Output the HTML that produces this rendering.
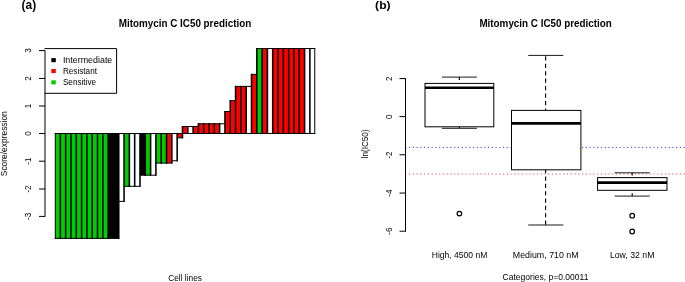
<!DOCTYPE html>
<html><head><meta charset="utf-8"><title>Mitomycin C IC50 prediction</title>
<style>
html,body{margin:0;padding:0;background:#fff;}
body{width:685px;height:282px;overflow:hidden;font-family:"Liberation Sans",sans-serif;}
svg{display:block;will-change:transform;}
text{font-family:"Liberation Sans",sans-serif;fill:#000;}
.t{font-size:9px;}
.b{font-size:10.2px;font-weight:bold;}
.p{font-size:12.2px;font-weight:bold;}
</style></head><body>
<svg width="685" height="282" viewBox="0 0 685 282">
<rect width="685" height="282" fill="#fff"/>
<!-- panel a -->
<text class="p" x="21.6" y="9" textLength="14.6" lengthAdjust="spacingAndGlyphs">(a)</text>
<text class="b" x="118.8" y="27.1" textLength="132.4" lengthAdjust="spacingAndGlyphs">Mitomycin C IC50 prediction</text>
<g class="t" text-anchor="middle">
<text transform="translate(31 50.60) rotate(-90)" textLength="4.5" lengthAdjust="spacingAndGlyphs">3</text>
<text transform="translate(31 78.45) rotate(-90)" textLength="4.5" lengthAdjust="spacingAndGlyphs">2</text>
<text transform="translate(31 106.00) rotate(-90)" textLength="4.5" lengthAdjust="spacingAndGlyphs">1</text>
<text transform="translate(31 133.50) rotate(-90)" textLength="4.5" lengthAdjust="spacingAndGlyphs">0</text>
<text transform="translate(31 161.20) rotate(-90)" textLength="7.2" lengthAdjust="spacingAndGlyphs">-1</text>
<text transform="translate(31 189.00) rotate(-90)" textLength="7.2" lengthAdjust="spacingAndGlyphs">-2</text>
<text transform="translate(31 216.40) rotate(-90)" textLength="7.2" lengthAdjust="spacingAndGlyphs">-3</text>
</g>
<text class="t" transform="translate(7.2 176.2) rotate(-90)" textLength="65" lengthAdjust="spacingAndGlyphs">Score/expression</text>
<g>
<rect x="55.30" y="133.50" width="5.050" height="104.86" fill="#00cd00"/>
<rect x="60.35" y="133.50" width="5.310" height="104.86" fill="#00cd00"/>
<rect x="65.66" y="133.50" width="5.310" height="104.86" fill="#00cd00"/>
<rect x="70.97" y="133.50" width="5.310" height="104.86" fill="#00cd00"/>
<rect x="76.28" y="133.50" width="5.310" height="104.86" fill="#00cd00"/>
<rect x="81.59" y="133.50" width="5.310" height="104.86" fill="#00cd00"/>
<rect x="86.90" y="133.50" width="5.310" height="104.86" fill="#00cd00"/>
<rect x="92.21" y="133.50" width="5.310" height="104.86" fill="#00cd00"/>
<rect x="97.52" y="133.50" width="5.310" height="104.86" fill="#00cd00"/>
<rect x="102.83" y="133.50" width="5.310" height="104.86" fill="#00cd00"/>
<rect x="108.14" y="133.50" width="5.310" height="104.86" fill="#000000"/>
<rect x="113.45" y="133.50" width="5.310" height="104.86" fill="#000000"/>
<rect x="118.76" y="133.50" width="5.310" height="67.89" fill="#ffffff"/>
<rect x="124.06" y="133.50" width="5.310" height="52.80" fill="#00cd00"/>
<rect x="129.37" y="133.50" width="5.310" height="52.80" fill="#ffffff"/>
<rect x="134.68" y="133.50" width="5.310" height="52.80" fill="#ffffff"/>
<rect x="139.99" y="133.50" width="5.310" height="41.69" fill="#000000"/>
<rect x="145.30" y="133.50" width="5.310" height="41.69" fill="#00cd00"/>
<rect x="150.61" y="133.50" width="5.310" height="41.69" fill="#ffffff"/>
<rect x="155.92" y="133.50" width="5.310" height="29.59" fill="#00cd00"/>
<rect x="161.23" y="133.50" width="5.310" height="29.59" fill="#00cd00"/>
<rect x="166.54" y="133.50" width="5.310" height="29.59" fill="#ff0000"/>
<rect x="171.85" y="133.50" width="5.310" height="27.30" fill="#ffffff"/>
<rect x="177.16" y="133.50" width="5.310" height="4.34" fill="#ff0000"/>
<rect x="182.47" y="126.51" width="5.310" height="6.99" fill="#ff0000"/>
<rect x="187.78" y="126.51" width="5.310" height="6.99" fill="#ffffff"/>
<rect x="193.09" y="126.51" width="5.310" height="6.99" fill="#ff0000"/>
<rect x="198.40" y="123.75" width="5.310" height="9.75" fill="#ff0000"/>
<rect x="203.71" y="123.75" width="5.310" height="9.75" fill="#ff0000"/>
<rect x="209.02" y="123.75" width="5.310" height="9.75" fill="#ff0000"/>
<rect x="214.33" y="123.75" width="5.310" height="9.75" fill="#ff0000"/>
<rect x="219.64" y="123.75" width="5.310" height="9.75" fill="#ffffff"/>
<rect x="224.95" y="111.51" width="5.310" height="21.99" fill="#ff0000"/>
<rect x="230.26" y="100.70" width="5.310" height="32.80" fill="#ff0000"/>
<rect x="235.57" y="86.39" width="5.310" height="47.11" fill="#ff0000"/>
<rect x="240.88" y="86.39" width="5.310" height="47.11" fill="#ff0000"/>
<rect x="246.19" y="86.39" width="5.310" height="47.11" fill="#ffffff"/>
<rect x="251.50" y="74.37" width="5.310" height="59.13" fill="#ff0000"/>
<rect x="256.80" y="48.51" width="5.310" height="84.99" fill="#00cd00"/>
<rect x="262.11" y="48.51" width="5.310" height="84.99" fill="#ff0000"/>
<rect x="267.42" y="48.51" width="5.310" height="84.99" fill="#ffffff"/>
<rect x="272.73" y="48.51" width="5.310" height="84.99" fill="#ff0000"/>
<rect x="278.04" y="48.51" width="5.310" height="84.99" fill="#ff0000"/>
<rect x="283.35" y="48.51" width="5.310" height="84.99" fill="#ff0000"/>
<rect x="288.66" y="48.51" width="5.310" height="84.99" fill="#ff0000"/>
<rect x="293.97" y="48.51" width="5.310" height="84.99" fill="#ff0000"/>
<rect x="299.28" y="48.51" width="5.310" height="84.99" fill="#ff0000"/>
<rect x="304.59" y="48.51" width="5.310" height="84.99" fill="#ffffff"/>
<rect x="309.90" y="48.51" width="4.849" height="84.99" fill="#ffffff"/>
<path d="M54.80 133.50H60.85M54.80 238.36H60.85M59.85 133.50H66.16M59.85 238.36H66.16M65.16 133.50H71.47M65.16 238.36H71.47M70.47 133.50H76.78M70.47 238.36H76.78M75.78 133.50H82.09M75.78 238.36H82.09M81.09 133.50H87.40M81.09 238.36H87.40M86.40 133.50H92.71M86.40 238.36H92.71M91.71 133.50H98.02M91.71 238.36H98.02M97.02 133.50H103.33M97.02 238.36H103.33M102.33 133.50H108.64M102.33 238.36H108.64M107.64 133.50H113.95M107.64 238.36H113.95M112.95 133.50H119.26M112.95 238.36H119.26M118.26 133.50H124.56M118.26 201.39H124.56M123.56 133.50H129.87M123.56 186.30H129.87M128.87 133.50H135.18M128.87 186.30H135.18M134.18 133.50H140.49M134.18 186.30H140.49M139.49 133.50H145.80M139.49 175.19H145.80M144.80 133.50H151.11M144.80 175.19H151.11M150.11 133.50H156.42M150.11 175.19H156.42M155.42 133.50H161.73M155.42 163.09H161.73M160.73 133.50H167.04M160.73 163.09H167.04M166.04 133.50H172.35M166.04 163.09H172.35M171.35 133.50H177.66M171.35 160.80H177.66M176.66 133.50H182.97M176.66 137.84H182.97M181.97 126.51H188.28M181.97 133.50H188.28M187.28 126.51H193.59M187.28 133.50H193.59M192.59 126.51H198.90M192.59 133.50H198.90M197.90 123.75H204.21M197.90 133.50H204.21M203.21 123.75H209.52M203.21 133.50H209.52M208.52 123.75H214.83M208.52 133.50H214.83M213.83 123.75H220.14M213.83 133.50H220.14M219.14 123.75H225.45M219.14 133.50H225.45M224.45 111.51H230.76M224.45 133.50H230.76M229.76 100.70H236.07M229.76 133.50H236.07M235.07 86.39H241.38M235.07 133.50H241.38M240.38 86.39H246.69M240.38 133.50H246.69M245.69 86.39H252.00M245.69 133.50H252.00M251.00 74.37H257.30M251.00 133.50H257.30M256.30 48.51H262.61M256.30 133.50H262.61M261.61 48.51H267.92M261.61 133.50H267.92M266.92 48.51H273.23M266.92 133.50H273.23M272.23 48.51H278.54M272.23 133.50H278.54M277.54 48.51H283.85M277.54 133.50H283.85M282.85 48.51H289.16M282.85 133.50H289.16M288.16 48.51H294.47M288.16 133.50H294.47M293.47 48.51H299.78M293.47 133.50H299.78M298.78 48.51H305.09M298.78 133.50H305.09M304.09 48.51H310.40M304.09 133.50H310.40M309.40 48.51H315.25M309.40 133.50H315.25" stroke="#000" stroke-width="1" fill="none"/>
<path d="M55.30 133.00V238.86" stroke="#000" stroke-width="1.0" fill="none"/>
<path d="M60.35 133.00V238.86" stroke="#000" stroke-width="1.55" fill="none"/>
<path d="M65.66 133.00V238.86" stroke="#000" stroke-width="1.55" fill="none"/>
<path d="M70.97 133.00V238.86" stroke="#000" stroke-width="1.55" fill="none"/>
<path d="M76.28 133.00V238.86" stroke="#000" stroke-width="1.55" fill="none"/>
<path d="M81.59 133.00V238.86" stroke="#000" stroke-width="1.55" fill="none"/>
<path d="M86.90 133.00V238.86" stroke="#000" stroke-width="1.55" fill="none"/>
<path d="M92.21 133.00V238.86" stroke="#000" stroke-width="1.55" fill="none"/>
<path d="M97.52 133.00V238.86" stroke="#000" stroke-width="1.55" fill="none"/>
<path d="M102.83 133.00V238.86" stroke="#000" stroke-width="1.55" fill="none"/>
<path d="M108.14 133.00V238.86" stroke="#000" stroke-width="1.55" fill="none"/>
<path d="M113.45 133.00V238.86" stroke="#000" stroke-width="1.55" fill="none"/>
<path d="M118.76 133.00V238.86" stroke="#000" stroke-width="1.55" fill="none"/>
<path d="M124.06 133.00V201.89" stroke="#000" stroke-width="1.55" fill="none"/>
<path d="M129.37 133.00V186.80" stroke="#000" stroke-width="1.55" fill="none"/>
<path d="M134.68 133.00V186.80" stroke="#000" stroke-width="1.55" fill="none"/>
<path d="M139.99 133.00V186.80" stroke="#000" stroke-width="1.55" fill="none"/>
<path d="M145.30 133.00V175.69" stroke="#000" stroke-width="1.55" fill="none"/>
<path d="M150.61 133.00V175.69" stroke="#000" stroke-width="1.55" fill="none"/>
<path d="M155.92 133.00V175.69" stroke="#000" stroke-width="1.55" fill="none"/>
<path d="M161.23 133.00V163.59" stroke="#000" stroke-width="1.55" fill="none"/>
<path d="M166.54 133.00V163.59" stroke="#000" stroke-width="1.55" fill="none"/>
<path d="M171.85 133.00V163.59" stroke="#000" stroke-width="1.55" fill="none"/>
<path d="M177.16 133.00V161.30" stroke="#000" stroke-width="1.55" fill="none"/>
<path d="M182.47 126.01V138.34" stroke="#000" stroke-width="1.55" fill="none"/>
<path d="M187.78 126.01V134.00" stroke="#000" stroke-width="1.55" fill="none"/>
<path d="M193.09 126.01V134.00" stroke="#000" stroke-width="1.55" fill="none"/>
<path d="M198.40 123.25V134.00" stroke="#000" stroke-width="1.55" fill="none"/>
<path d="M203.71 123.25V134.00" stroke="#000" stroke-width="1.55" fill="none"/>
<path d="M209.02 123.25V134.00" stroke="#000" stroke-width="1.55" fill="none"/>
<path d="M214.33 123.25V134.00" stroke="#000" stroke-width="1.55" fill="none"/>
<path d="M219.64 123.25V134.00" stroke="#000" stroke-width="1.55" fill="none"/>
<path d="M224.95 111.01V134.00" stroke="#000" stroke-width="1.55" fill="none"/>
<path d="M230.26 100.20V134.00" stroke="#000" stroke-width="1.55" fill="none"/>
<path d="M235.57 85.89V134.00" stroke="#000" stroke-width="1.55" fill="none"/>
<path d="M240.88 85.89V134.00" stroke="#000" stroke-width="1.55" fill="none"/>
<path d="M246.19 85.89V134.00" stroke="#000" stroke-width="1.55" fill="none"/>
<path d="M251.50 73.87V134.00" stroke="#000" stroke-width="1.55" fill="none"/>
<path d="M256.80 48.01V134.00" stroke="#000" stroke-width="1.55" fill="none"/>
<path d="M262.11 48.01V134.00" stroke="#000" stroke-width="1.55" fill="none"/>
<path d="M267.42 48.01V134.00" stroke="#000" stroke-width="1.55" fill="none"/>
<path d="M272.73 48.01V134.00" stroke="#000" stroke-width="1.55" fill="none"/>
<path d="M278.04 48.01V134.00" stroke="#000" stroke-width="1.55" fill="none"/>
<path d="M283.35 48.01V134.00" stroke="#000" stroke-width="1.55" fill="none"/>
<path d="M288.66 48.01V134.00" stroke="#000" stroke-width="1.55" fill="none"/>
<path d="M293.97 48.01V134.00" stroke="#000" stroke-width="1.55" fill="none"/>
<path d="M299.28 48.01V134.00" stroke="#000" stroke-width="1.55" fill="none"/>
<path d="M304.59 48.01V134.00" stroke="#000" stroke-width="1.55" fill="none"/>
<path d="M309.90 48.01V134.00" stroke="#000" stroke-width="1.55" fill="none"/>
<path d="M314.75 48.01V134.00" stroke="#000" stroke-width="1.0" fill="none"/>
</g>
<rect x="45.5" y="48.6" width="71.1" height="44.7" fill="#fff"/>
<path d="M44.5 48.6H116.6V93.3H44.5" fill="none" stroke="#000" stroke-width="1"/>
<g stroke="#000" stroke-width="1" fill="none">
<path d="M45 50.1V216.9"/>
<path d="M39 50.6H45M39 78.45H45M39 106.0H45M39 133.5H45M39 161.2H45M39 189.0H45M39 216.4H45"/>
</g>
<rect x="51.3" y="58.1" width="4.5" height="4.1" fill="#000"/>
<rect x="51.3" y="69" width="4.5" height="4.1" fill="#f00"/>
<rect x="51.3" y="80.3" width="4.5" height="4.1" fill="#00cd00"/>
<text class="t" x="62.9" y="62.6" textLength="49.4" lengthAdjust="spacingAndGlyphs">Intermediate</text>
<text class="t" x="62.9" y="73.8" textLength="34.1" lengthAdjust="spacingAndGlyphs">Resistant</text>
<text class="t" x="62.9" y="85" textLength="33.2" lengthAdjust="spacingAndGlyphs">Sensitive</text>
<text class="t" x="168.2" y="281.2" textLength="33.8" lengthAdjust="spacingAndGlyphs">Cell lines</text>

<!-- panel b -->
<text class="p" style="font-size:11.8px" x="375.1" y="8.9" textLength="15.5" lengthAdjust="spacingAndGlyphs">(b)</text>
<text class="b" x="479.4" y="27.1" textLength="132.4" lengthAdjust="spacingAndGlyphs">Mitomycin C IC50 prediction</text>
<g stroke="#000" stroke-width="1" fill="none">
<path d="M405.5 78.1V231.7"/>
<path d="M399.5 78.6H405.5M399.5 116.6H405.5M399.5 154.75H405.5M399.5 193.05H405.5M399.5 231.2H405.5"/>
</g>
<g class="t" text-anchor="middle">
<text transform="translate(391.9 78.7) rotate(-90)" textLength="4.5" lengthAdjust="spacingAndGlyphs">2</text>
<text transform="translate(391.9 116.8) rotate(-90)" textLength="4.5" lengthAdjust="spacingAndGlyphs">0</text>
<text transform="translate(391.9 155) rotate(-90)" textLength="7.2" lengthAdjust="spacingAndGlyphs">-2</text>
<text transform="translate(391.9 193.1) rotate(-90)" textLength="7.2" lengthAdjust="spacingAndGlyphs">-4</text>
<text transform="translate(391.9 231.2) rotate(-90)" textLength="7.2" lengthAdjust="spacingAndGlyphs">-6</text>
</g>
<text class="t" transform="translate(368.2 158.4) rotate(-90)" textLength="29" lengthAdjust="spacingAndGlyphs">ln(IC50)</text>
<!-- dotted lines -->
<path d="M405.24 147.4H685" stroke="#0000ff" stroke-width="1" stroke-opacity="0.8" stroke-dasharray="1.1 2.662" fill="none"/>
<path d="M405.24 174H685" stroke="#ff0000" stroke-width="1.2" stroke-opacity="0.75" stroke-dasharray="1.1 2.662" fill="none"/>
<!-- boxes -->
<g stroke="#000" stroke-width="1" fill="none">
<rect x="425" y="83.4" width="68.8" height="43.4" fill="#fff"/>
<rect x="511.5" y="110.4" width="69.4" height="59.4" fill="#fff"/>
<rect x="597.6" y="177.6" width="69.4" height="12.7" fill="#fff"/>
</g>
<g stroke="#000" stroke-width="0.9" fill="none">
<path d="M441.9 77.1H476.9M441.9 128.3H476.9"/>
<path d="M528.2 55.4H563.4M528.2 225H563.4"/>
<path d="M614.6 172.8H649.8M614.6 196.1H649.8"/>
<g stroke-width="1.15">
<path d="M459.4 77.1V80M459.4 128.3V126.8"/>
<path d="M632.2 172.8V175.5M632.2 196.1V193.3"/>
<path d="M545.6 55.4V110.4" stroke-dasharray="4.2 3.24" stroke-dashoffset="-0.9"/>
<path d="M545.6 225V169.8" stroke-dasharray="4.2 3.14" stroke-dashoffset="-0.3"/>
</g>
</g>
<g stroke="#000" stroke-width="1.2" fill="none">
<circle cx="459.4" cy="213.6" r="2.3"/>
<circle cx="632.2" cy="215.7" r="2.3"/>
<circle cx="632.2" cy="231.5" r="2.3"/>
</g>
<g stroke="#000" stroke-width="2.6" fill="none">
<path d="M425 87.8H493.8"/>
<path d="M511.5 123.4H580.9"/>
<path d="M597.6 182.6H667"/>
</g>
<g class="t">
<text x="431.8" y="257.7" textLength="55.5" lengthAdjust="spacingAndGlyphs">High, 4500 nM</text>
<text x="512.8" y="257.7" textLength="65.8" lengthAdjust="spacingAndGlyphs">Medium, 710 nM</text>
<text x="609.9" y="257.7" textLength="44.5" lengthAdjust="spacingAndGlyphs">Low, 32 nM</text>
<text x="502.6" y="279.8" textLength="85.8" lengthAdjust="spacingAndGlyphs">Categories, p=0.00011</text>
</g>
</svg>
</body></html>
